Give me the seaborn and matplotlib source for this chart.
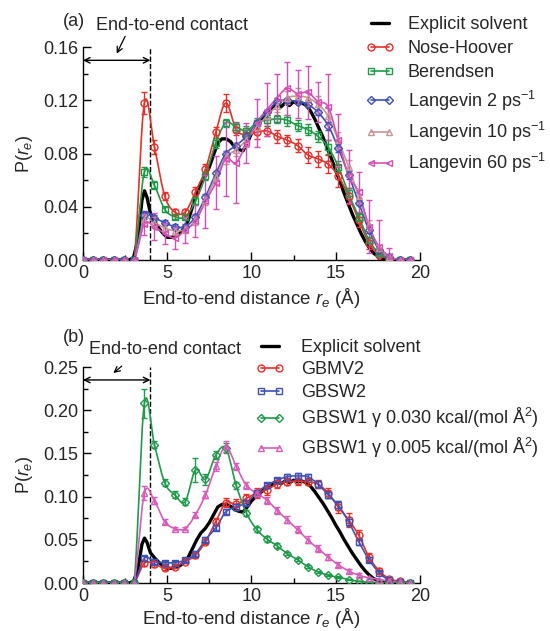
import numpy as np
import matplotlib
matplotlib.use("Agg")
import matplotlib.pyplot as plt
from matplotlib.lines import Line2D
from matplotlib.ticker import MultipleLocator, FormatStrFormatter
import seaborn as sns

sns.set_style("ticks")
plt.rcParams['font.family'] = ['Liberation Sans', 'DejaVu Sans']
plt.rcParams['mathtext.fontset'] = 'custom'
plt.rcParams['mathtext.rm'] = 'Liberation Sans'
plt.rcParams['mathtext.it'] = 'Liberation Sans:italic'
plt.rcParams['mathtext.bf'] = 'Liberation Sans:bold'

# ---------------- data ----------------
x_bins = [0.0, 0.61, 1.21, 1.82, 2.42, 3.03, 3.64, 4.24, 4.85, 5.45, 6.06, 6.67,
          7.27, 7.88, 8.48, 9.09, 9.70, 10.30, 10.91, 11.52, 12.12, 12.73, 13.33,
          13.94, 14.55, 15.15, 15.76, 16.36, 16.97, 17.58, 18.18, 18.79, 19.39]

x_explicit = [0.0, 2.75, 3.0, 3.25, 3.5, 3.65, 3.8, 4.0, 4.25, 4.5, 4.75, 5.0, 5.25,
              5.5, 5.75, 6.0, 6.25, 6.5, 6.75, 7.0, 7.25, 7.5, 7.75, 8.0, 8.25, 8.5,
              8.75, 9.0, 9.25, 9.5, 9.75, 10.0, 10.25, 10.5, 10.75, 11.0, 11.25, 11.5,
              11.75, 12.0, 12.25, 12.5, 12.75, 13.0, 13.25, 13.5, 13.75, 14.0, 14.25,
              14.5, 14.75, 15.0, 15.25, 15.5, 15.75, 16.0, 16.25, 16.5, 16.75, 17.0,
              17.25, 17.5, 17.75, 18.0, 19.5]
p_explicit = [0.0, 0.0, 0.002, 0.015, 0.045, 0.052, 0.047, 0.035, 0.029, 0.024, 0.020,
              0.017, 0.017, 0.018, 0.020, 0.024, 0.030, 0.040, 0.050, 0.058, 0.063,
              0.070, 0.079, 0.088, 0.091, 0.091, 0.089, 0.085, 0.083, 0.082, 0.088,
              0.095, 0.100, 0.104, 0.108, 0.111, 0.114, 0.117, 0.115, 0.118, 0.116,
              0.119, 0.117, 0.118, 0.116, 0.112, 0.106, 0.099, 0.092, 0.084, 0.076,
              0.067, 0.059, 0.050, 0.042, 0.034, 0.027, 0.020, 0.014, 0.009, 0.005,
              0.003, 0.001, 0.0, 0.0]

Z = [0.0] * 6
# panel (a)
nose_hoover = Z + [0.118, 0.085, 0.048, 0.036, 0.036, 0.051, 0.068, 0.096, 0.118, 0.098,
                   0.094, 0.096, 0.097, 0.093, 0.090, 0.086, 0.079, 0.076, 0.072, 0.063,
                   0.048, 0.030, 0.0125, 0.004, 0.001, 0.0, 0.0]
nose_hoover_err = Z + [0.008, 0.005, 0.003, 0.002, 0.002, 0.004, 0.004, 0.004, 0.007, 0.004,
                       0.005, 0.005, 0.004, 0.005, 0.004, 0.005, 0.006, 0.006, 0.007, 0.008,
                       0.006, 0.005, 0.004, 0.002, 0.001, 0.0, 0.0]
berendsen = Z + [0.066, 0.056, 0.038, 0.0325, 0.0325, 0.044, 0.063, 0.088, 0.103, 0.100,
                 0.097, 0.103, 0.105, 0.106, 0.105, 0.101, 0.098, 0.093, 0.085, 0.070,
                 0.050, 0.0325, 0.015, 0.005, 0.001, 0.0, 0.0]
berendsen_err = Z + [0.004, 0.003, 0.002, 0.002, 0.002, 0.003, 0.003, 0.004, 0.003, 0.004,
                     0.004, 0.004, 0.004, 0.003, 0.004, 0.004, 0.004, 0.004, 0.005, 0.004,
                     0.004, 0.003, 0.002, 0.001, 0.001, 0.0, 0.0]
langevin2 = Z + [0.034, 0.0315, 0.028, 0.025, 0.025, 0.0325, 0.0475, 0.065, 0.080, 0.086,
                 0.093, 0.103, 0.111, 0.119, 0.120, 0.119, 0.117, 0.111, 0.101, 0.084,
                 0.064, 0.043, 0.0225, 0.0075, 0.002, 0.0, 0.0]
langevin2_err = Z + [0.003, 0.002, 0.002, 0.002, 0.002, 0.002, 0.002, 0.002, 0.002, 0.002,
                     0.002, 0.002, 0.002, 0.002, 0.002, 0.002, 0.002, 0.002, 0.003, 0.003,
                     0.003, 0.002, 0.002, 0.001, 0.001, 0.0, 0.0]
langevin10 = Z + [0.030, 0.028, 0.024, 0.022, 0.023, 0.030, 0.045, 0.062, 0.077, 0.083,
                  0.090, 0.100, 0.108, 0.116, 0.122, 0.123, 0.122, 0.117, 0.108, 0.090,
                  0.070, 0.048, 0.026, 0.009, 0.002, 0.0, 0.0]
langevin10_err = Z + [0.004, 0.004, 0.003, 0.003, 0.003, 0.004, 0.004, 0.005, 0.005, 0.005,
                      0.005, 0.005, 0.005, 0.005, 0.005, 0.006, 0.006, 0.006, 0.006, 0.006,
                      0.005, 0.005, 0.004, 0.002, 0.001, 0.0, 0.0]
langevin60 = Z + [0.027, 0.025, 0.020, 0.0165, 0.0225, 0.029, 0.044, 0.058, 0.076, 0.073,
                  0.088, 0.103, 0.113, 0.122, 0.129, 0.125, 0.126, 0.119, 0.115, 0.090,
                  0.063, 0.051, 0.025, 0.010, 0.003, 0.0, 0.0]
langevin60_err = Z + [0.008, 0.010, 0.008, 0.008, 0.010, 0.012, 0.020, 0.020, 0.028, 0.030,
                      0.015, 0.018, 0.020, 0.018, 0.020, 0.018, 0.020, 0.015, 0.025, 0.020,
                      0.020, 0.015, 0.020, 0.020, 0.006, 0.0, 0.0]
# panel (b)
gbmv2 = Z + [0.023, 0.022, 0.017, 0.019, 0.0247, 0.032, 0.048, 0.071, 0.093, 0.091,
             0.098, 0.104, 0.108, 0.1145, 0.117, 0.118, 0.117, 0.1145, 0.104, 0.088,
             0.073, 0.0555, 0.030, 0.014, 0.005, 0.002, 0.0]
gbmv2_err = Z + [0.003, 0.003, 0.002, 0.002, 0.002, 0.003, 0.003, 0.004, 0.005, 0.006,
                 0.005, 0.006, 0.006, 0.005, 0.004, 0.004, 0.004, 0.005, 0.006, 0.007,
                 0.008, 0.006, 0.005, 0.003, 0.002, 0.001, 0.0]
gbsw2 = Z + [0.0286, 0.0247, 0.0235, 0.0235, 0.0266, 0.034, 0.050, 0.064, 0.0825, 0.088,
             0.093, 0.1045, 0.113, 0.119, 0.123, 0.124, 0.123, 0.1145, 0.102, 0.090,
             0.071, 0.048, 0.027, 0.012, 0.003, 0.001, 0.0]
gbsw2_err = Z + [0.003, 0.003, 0.002, 0.002, 0.002, 0.003, 0.003, 0.003, 0.003, 0.003,
                 0.003, 0.003, 0.003, 0.003, 0.003, 0.003, 0.003, 0.004, 0.004, 0.005,
                 0.005, 0.004, 0.003, 0.002, 0.001, 0.0, 0.0]
gbsw1_030 = Z + [0.208, 0.160, 0.116, 0.102, 0.094, 0.131, 0.120, 0.148, 0.156, 0.113,
                 0.081, 0.062, 0.051, 0.043, 0.034, 0.027, 0.019, 0.013, 0.009, 0.0066,
                 0.004, 0.002, 0.001, 0.0005, 0.0, 0.0, 0.0]
gbsw1_030_err = Z + [0.017, 0.004, 0.004, 0.004, 0.004, 0.014, 0.006, 0.005, 0.006, 0.004,
                     0.004, 0.003, 0.003, 0.003, 0.002, 0.002, 0.002, 0.001, 0.001, 0.001,
                     0.001, 0.0, 0.0, 0.0, 0.0, 0.0, 0.0]
gbsw1_005 = Z + [0.104, 0.095, 0.071, 0.063, 0.063, 0.079, 0.102, 0.135, 0.158, 0.135,
                 0.113, 0.104, 0.096, 0.084, 0.073, 0.062, 0.050, 0.040, 0.030, 0.021,
                 0.014, 0.009, 0.006, 0.004, 0.002, 0.001, 0.0]
gbsw1_005_err = Z + [0.008, 0.004, 0.003, 0.002, 0.002, 0.003, 0.004, 0.005, 0.006, 0.004,
                     0.004, 0.004, 0.004, 0.004, 0.004, 0.004, 0.004, 0.004, 0.003, 0.003,
                     0.002, 0.002, 0.001, 0.001, 0.0, 0.0, 0.0]

labels_a = ["Explicit solvent", "Nose-Hoover", "Berendsen", "Langevin 2 ps$^{-1}$",
            "Langevin 10 ps$^{-1}$", "Langevin 60 ps$^{-1}$"]
labels_b = ["Explicit solvent", "GBMV2", "GBSW2",
            "GBSW1 γ 0.030 kcal/(mol Å$^2$)",
            "GBSW1 γ 0.005 kcal/(mol Å$^2$)"]

RED = "#e8302a"
GREEN = "#1f9a4a"
BLUE = "#3c52b8"
ROSY = "#c99595"
MAGENTA = "#d54fb6"
PINK = "#d85cba"


def smooth_curve(x, y, n=10):
    """Cubic Hermite (Catmull-Rom like) curve through the points, for drawing."""
    x = np.asarray(x, float)
    y = np.asarray(y, float)
    m = np.gradient(y, x)
    xs, ys = [], []
    t = np.linspace(0, 1, n, endpoint=False)
    h00 = 2 * t**3 - 3 * t**2 + 1
    h10 = t**3 - 2 * t**2 + t
    h01 = -2 * t**3 + 3 * t**2
    h11 = t**3 - t**2
    for i in range(len(x) - 1):
        h = x[i + 1] - x[i]
        xs.append(x[i] + t * h)
        ys.append(h00 * y[i] + h10 * h * m[i] + h01 * y[i + 1] + h11 * h * m[i + 1])
    xs.append([x[-1]])
    ys.append([y[-1]])
    return np.concatenate(xs), np.concatenate(ys)


def draw_series(ax, y, err, color, marker, lw=1.2, ms=5):
    xs, ys = smooth_curve(x_bins, y)
    sns.lineplot(x=xs, y=ys, ax=ax, color=color, lw=lw, sort=False,
                 estimator=None, legend=False)
    ax.errorbar(x_bins, y, yerr=err, fmt=marker, ms=ms, mfc='none', mec=color,
                mew=1.0, ecolor=color, elinewidth=1.0, capsize=2.5, capthick=1.0,
                linestyle='none', zorder=3)


fig = plt.figure(figsize=(5.5, 6.31), dpi=100)
ax1 = fig.add_axes([83 / 550, 1 - 260 / 631, 337 / 550, 213 / 631])
ax2 = fig.add_axes([83 / 550, 1 - 583 / 631, 337 / 550, 216 / 631])

FS = 13

# ---- panel (a) ----
sns.lineplot(x=x_explicit, y=p_explicit, ax=ax1, color='black', lw=2.4,
             estimator=None, legend=False)
series_a = [(nose_hoover, nose_hoover_err, RED, 'o'),
            (berendsen, berendsen_err, GREEN, 's'),
            (langevin2, langevin2_err, BLUE, 'D'),
            (langevin10, langevin10_err, ROSY, '^'),
            (langevin60, langevin60_err, MAGENTA, '<')]
for y, e, c, mk in series_a:
    draw_series(ax1, y, e, c, mk, ms=5 if mk != 'D' else 4)

# ---- panel (b) ----
sns.lineplot(x=x_explicit, y=p_explicit, ax=ax2, color='black', lw=2.4,
             estimator=None, legend=False)
series_b = [(gbmv2, gbmv2_err, RED, 'o'),
            (gbsw2, gbsw2_err, BLUE, 's'),
            (gbsw1_030, gbsw1_030_err, GREEN, 'D'),
            (gbsw1_005, gbsw1_005_err, PINK, '^')]
for y, e, c, mk in series_b:
    draw_series(ax2, y, e, c, mk, ms=5 if mk != 'D' else 4)

for ax, ymax, ystep, arrow_y, tail, head, lpad in [
        (ax1, 0.16, 0.04, 0.15, (2.5, 0.168), (2.0, 0.155), 3),
        (ax2, 0.25, 0.05, 0.235, (2.3, 0.251), (1.8, 0.243), 1)]:
    ax.set_xlim(0, 20)
    ax.set_ylim(0, ymax)
    ax.xaxis.set_major_locator(MultipleLocator(5))
    ax.xaxis.set_minor_locator(MultipleLocator(2.5))
    ax.yaxis.set_major_locator(MultipleLocator(ystep))
    ax.yaxis.set_minor_locator(MultipleLocator(ystep / 2))
    ax.yaxis.set_major_formatter(FormatStrFormatter('%.2f'))
    ax.tick_params(which='both', direction='in', labelsize=FS, width=1, color='black')
    ax.tick_params(which='major', length=6)
    ax.tick_params(which='minor', length=3.5)
    sns.despine(ax=ax)
    for s in ('left', 'bottom'):
        ax.spines[s].set_linewidth(1.0)
        ax.spines[s].set_color('black')
    ax.set_xlabel("End-to-end distance $r_e$ (Å)", fontsize=13.5, labelpad=lpad)
    ax.set_ylabel("P($r_e$)", fontsize=FS, labelpad=6)
    ax.axvline(4.0, color='black', ls='--', lw=1.0, zorder=1)
    ax.annotate('', xy=(0, arrow_y), xytext=(4.0, arrow_y),
                arrowprops=dict(arrowstyle='<->', lw=1.0, color='black',
                                shrinkA=0, shrinkB=0))
    ax.annotate('', xy=head, xytext=tail, annotation_clip=False,
                arrowprops=dict(arrowstyle='->', lw=0.9, color='black',
                                shrinkA=0, shrinkB=0))

fig.text(63 / 550, 1 - 22 / 631, "(a)", fontsize=FS, va='center', ha='left')
fig.text(96 / 550, 1 - 25 / 631, "End-to-end contact", fontsize=FS, va='center', ha='left')
fig.text(63 / 550, 1 - 338 / 631, "(b)", fontsize=FS, va='center', ha='left')
fig.text(89 / 550, 1 - 350 / 631, "End-to-end contact", fontsize=FS, va='center', ha='left')


def handles_for(specs):
    hs = [Line2D([], [], color='black', lw=2.4)]
    for _, _, c, mk in specs:
        hs.append(Line2D([], [], color=c, lw=1.2, marker=mk, mfc='none', mec=c,
                         ms=5 if mk != 'D' else 4))
    return hs


fig.legend(handles_for(series_a), labels_a, loc='upper left',
           bbox_to_anchor=(366 / 550, 1 - 16 / 631), bbox_transform=fig.transFigure,
           frameon=False, fontsize=FS, handlelength=1.6, handletextpad=0.7,
           labelspacing=0.4, borderpad=0, borderaxespad=0, numpoints=2)
fig.legend(handles_for(series_b), labels_b, loc='upper left',
           bbox_to_anchor=(256 / 550, 1 - 339 / 631), bbox_transform=fig.transFigure,
           frameon=False, fontsize=FS, handlelength=1.6, handletextpad=0.9,
           labelspacing=0.3, borderpad=0, borderaxespad=0, numpoints=2)

fig.savefig("out.png", dpi=100)
